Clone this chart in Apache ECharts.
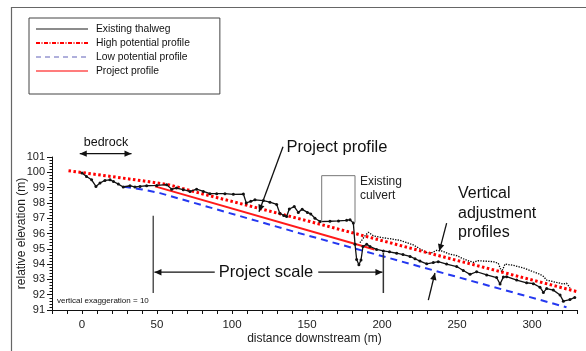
<!DOCTYPE html>
<html><head><meta charset="utf-8">
<script src="https://cdn.jsdelivr.net/npm/echarts@6/dist/echarts.min.js"></script>
<style>html,body{margin:0;padding:0;background:#fff}#c{width:586px;height:351px}</style>
</head><body><div id="c"></div><script>
// ---- data (distance downstream m, relative elevation m) ----
const thalweg = [[0,99.95],[3,99.73],[6.4,99.51],[9.3,99.08],[12,99.3],[15.3,99.47],[18.7,99.51],[21,99.4],[24.2,99.23],[27.5,99.04],[32,99.12],[35.3,99.04],[38.7,99.08],[43.1,99.12],[49.8,99.14],[56.4,99.19],[59.8,98.9],[63,98.97],[67.5,98.86],[72,98.75],[76.4,98.9],[80.9,98.75],[85.3,98.6],[89.8,98.6],[95.3,98.6],[100.9,98.56],[107.6,98.58],[109.5,98.0],[112.5,98.1],[115.3,98.2],[120.9,98.15],[125.3,98.05],[129.8,97.9],[131.8,97.33],[134.5,97.18],[136.4,97.11],[138.2,97.6],[141.5,97.76],[144.2,97.38],[146.8,97.58],[150.3,97.38],[152.5,97.28],[155.3,97.0],[158.7,96.78],[165.3,96.8],[171,96.82],[176.4,96.86],[178.7,96.9],[180.9,96.68],[182,95.3],[183.1,94.3],[184.6,93.95],[186,94.27],[187.3,95.15],[189.8,95.3],[192,95.15],[196.4,94.96],[200.9,94.86],[205,94.8],[209.8,94.71],[214,94.62],[218.7,94.5],[222,94.35],[225.3,94.2],[229.8,94.02],[234.2,94.1],[237.5,94.16],[243.1,94.0],[249.8,93.84],[254.2,93.58],[258.7,93.33],[263.1,93.5],[269.8,93.29],[276.4,93.12],[278.7,92.7],[280.9,93.15],[283.1,93.18],[289.8,92.96],[296.4,92.78],[300.9,92.72],[305.3,92.49],[307.6,92.15],[309.8,92.4],[314.2,92.3],[318.7,91.98],[320.9,91.58],[325.3,91.68],[328.5,91.82]];
const highPotential = [[-9,100.1],[20,99.72],[45,99.38],[58,99.18],[80,98.6],[152,96.78],[234,94.65],[330,92.2]];
const lowPotential = [[28,99.05],[40,98.88],[52,98.64],[145,96.02],[323,91.18]];
const projectProfile = [[48.7,99.08],[195,94.95]];
const verticalAdjustment = [[185.3,95.4],[188.7,95.85],[190.9,96.08],[194.2,95.85],[200.9,95.72],[206,95.65],[212,95.55],[216,95.42],[220.9,95.25],[225.3,95.0],[229.8,94.75],[233.3,94.75],[236.4,94.9],[240,94.85],[245.3,94.65],[249.8,94.55],[254.2,94.35],[258,94.2],[261,94.12],[264,94.22],[268,94.2],[274.2,94.16],[277.5,94.05],[279.8,93.5],[282,94.0],[287.5,93.92],[294.2,93.75],[300.9,93.5],[305,93.35],[307.6,93.2],[309.8,92.95],[316.4,92.8],[320.9,92.7],[323,92.75],[325.3,92.45]];
const xLabelStep = 50;
const seriesNames = ['Existing thalweg','High potential profile','Low potential profile','Project profile'];

const FONT = '"Liberation Sans", Arial, sans-serif';
const chart = echarts.init(document.getElementById('c'), null, {renderer:'canvas'});
const option = {
  animation:false,
  backgroundColor:'#fff',
  grid:{left:52,right:9,top:157,bottom:41},
  legend:{
    orient:'vertical', left:29, top:18, padding:[6,30,18,6],
    borderColor:'#444', borderWidth:1,
    itemWidth:52, itemHeight:9, itemGap:4,
    itemStyle:{opacity:0},
    textStyle:{fontFamily:FONT,fontSize:10.3,color:'#111',padding:[0,0,0,3]},
    data:[
      {name:seriesNames[0], lineStyle:{color:'#666',width:1.5,type:'solid'}},
      {name:seriesNames[1], lineStyle:{color:'#ff0000',width:2,type:[4,1.5,1,1.5]}},
      {name:seriesNames[2], lineStyle:{color:'#6060b8',width:1,type:[5,4]}},
      {name:seriesNames[3], lineStyle:{color:'#ff5050',width:1.5,type:'solid'}}
    ]
  },
  xAxis:{
    type:'value', min:-20, max:330, interval:10,
    name:'distance downstream (m)', nameLocation:'middle', nameGap:23, nameMoveOverlap:false,
    nameTextStyle:{fontFamily:FONT,fontSize:12,color:'#222'},
    axisLine:{onZero:false,lineStyle:{color:'#111',width:1}},
    axisTick:{length:4,lineStyle:{color:'#111'}},
    axisLabel:{fontFamily:FONT,fontSize:11.5,color:'#222',margin:9,
      formatter:v=> (v % xLabelStep === 0) ? String(v) : ''},
    splitLine:{show:false}
  },
  yAxis:{
    type:'value', min:91, max:101, interval:1,
    name:'relative elevation (m)', nameLocation:'middle', nameGap:24, nameMoveOverlap:false,
    nameTextStyle:{fontFamily:FONT,fontSize:12,color:'#222'},
    axisLine:{show:true,onZero:false,lineStyle:{color:'#111',width:1}},
    axisTick:{show:true,length:5,lineStyle:{color:'#111'}},
    minorTick:{show:true,splitNumber:5,length:2.5,lineStyle:{color:'#111'}},
    axisLabel:{fontFamily:FONT,fontSize:11,color:'#222',margin:7},
    splitLine:{show:false}
  },
  series:[
    {name:seriesNames[2], type:'line', data:lowPotential, showSymbol:false, symbol:'none',
      lineStyle:{color:'#2438f0',width:2,type:[7,5]}, z:2},
    {name:seriesNames[3], type:'line', data:projectProfile, showSymbol:false, symbol:'none',
      lineStyle:{color:'#ff1a1a',width:2}, z:3},
    {name:'Vertical adjustment profile', type:'line', data:verticalAdjustment, showSymbol:false, symbol:'none',
      lineStyle:{color:'#000',width:1.3,type:[1.3,1.3]}, z:3},
    {name:seriesNames[1], type:'line', data:highPotential, showSymbol:false, symbol:'none',
      lineStyle:{color:'#ff0000',width:3,type:[2.5,2.5],cap:'butt'}, z:4},
    {name:seriesNames[0], type:'line', data:thalweg, symbol:'circle', symbolSize:3, showSymbol:true,
      itemStyle:{color:'#111'}, lineStyle:{color:'#111',width:1.3}, z:5}
  ]
};
chart.setOption(option);

// ---- annotations, positioned in data coordinates ----
const P = (x,y)=>chart.convertToPixel({gridIndex:0},[x,y]);
function line(a,b,color,w){return {type:'line',shape:{x1:a[0],y1:a[1],x2:b[0],y2:b[1]},style:{stroke:color,lineWidth:w},z:10};}
function head(a,b,color,len,wid){
  const dx=b[0]-a[0],dy=b[1]-a[1],L=Math.hypot(dx,dy),ux=dx/L,uy=dy/L;
  const bx=b[0]-ux*len,by=b[1]-uy*len;
  return {type:'polygon',shape:{points:[b,[bx-uy*wid,by+ux*wid],[bx+uy*wid,by-ux*wid]]},style:{fill:color},z:10};
}
function arrow(a,b,color,w,both){
  const A=P(a[0],a[1]),B=P(b[0],b[1]);
  const els=[line(A,B,color,w),head(A,B,color,7,3.2)];
  if(both) els.push(head(B,A,color,7,3.2));
  return els;
}
function txt(x,y,s,size,align,color){
  const p=P(x,y);
  return {type:'text',x:p[0],y:p[1],style:{text:s,fontFamily:FONT,fontSize:size,fill:color||'#111',align:align||'center',verticalAlign:'middle'},z:11};
}
const culvert = [[159.8,96.76],[159.8,99.78],[182,99.78],[182,96.72]].map(p=>P(p[0],p[1]));
const g = [
  {type:'rect',shape:{x:11.5,y:7.5,width:700,height:500},style:{fill:'none',stroke:'#666',lineWidth:1.2},z:0},
  txt(16,101.93,'bedrock',12.5),
  ...arrow([-1.5,101.22],[33,101.22],'#111',1.3,true),
  txt(170,101.6,'Project profile',16.5),
  ...arrow([134,101.67],[118,97.42],'#111',1.3,false),
  {type:'polyline',shape:{points:culvert},style:{stroke:'#777',lineWidth:1,fill:'none'},z:9},
  txt(185.3,99.37,'Existing',12,'left','#222'),
  txt(185.3,98.45,'culvert',12,'left','#222'),
  txt(250.7,98.59,'Vertical',16,'left'),
  txt(250.7,97.28,'adjustment',16,'left'),
  txt(250.7,96.03,'profiles',16,'left'),
  ...arrow([243.1,96.68],[238.2,94.85],'#111',1.3,false),
  ...arrow([230.9,91.65],[235.3,93.42],'#111',1.3,false),
  line(P(47.5,97.16),P(47.5,92.11),'#555',1.5),
  line(P(200.9,94.73),P(200.9,92.11),'#333',1.5),
  ...arrow([88.5,93.47],[48.3,93.47],'#111',1.2,false),
  ...arrow([157.5,93.47],[200.3,93.47],'#111',1.2,false),
  txt(122.7,93.47,'Project scale',16.5),
  txt(-16.7,91.63,'vertical exaggeration = 10',8,'left')
];
chart.setOption({graphic:{elements:g}});
</script></body></html>
